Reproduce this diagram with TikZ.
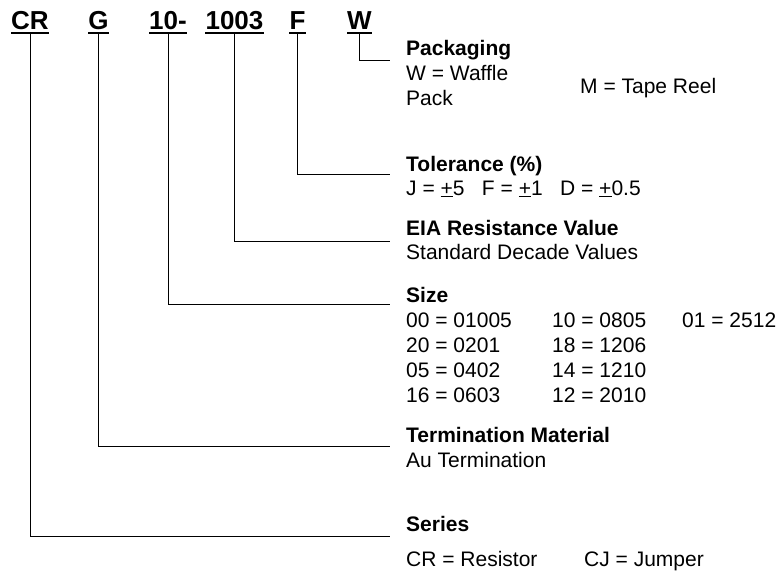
\documentclass[tikz,border=0pt]{standalone}
\usepackage{fontspec}
\setmainfont{Liberation Sans}
\usetikzlibrary{positioning}

\begin{document}
\begin{tikzpicture}[
  x=1pt, y=-1pt,
  node distance=25pt,
  code/.style={font=\fontsize{26}{30}\selectfont\bfseries, inner xsep=0pt, inner ysep=4pt, text depth=0pt, anchor=base},
  head/.style={font=\fontsize{21}{25}\selectfont\bfseries, inner sep=0pt, anchor=base west},
  desc/.style={font=\fontsize{21}{25}\selectfont, inner sep=0pt, anchor=base west},
  uline/.style={line width=2pt},
  lead/.style={line width=1pt}
]
\useasboundingbox (0,0) rectangle (778,571);

\node[code] (cr) at (30,29) {CR};
\node[code] (g) at (98.5,29) {G};
\node[code] (sz) at (168,29) {10-};
\node[code] (val) at (234.5,29) {1003};
\node[code] (tl) at (297.5,29) {F};
\node[code] (pk) at (359.5,29) {W};
\draw[uline] (cr.south west) -- (cr.south east);
\draw[uline] (g.south west) -- (g.south east);
\draw[uline] (sz.south west) -- (sz.south east);
\draw[uline] (val.south west) -- (val.south east);
\draw[uline] (tl.south west) -- (tl.south east);
\draw[uline] (pk.south west) -- (pk.south east);

\node[head] (pkg) at (406,55) {Packaging};
\node[desc, below=25pt of pkg.base west, anchor=base west] (pkgw) {W = Waffle};
\node[desc, below=25pt of pkgw.base west, anchor=base west] (pkgp) {Pack};
\node[desc] (pkgm) at (580,93) {M = Tape Reel};

\node[head] (tol) at (406,171) {Tolerance (\%)};
\node[desc, below=24pt of tol.base west, anchor=base west] (tolv) {J = \underline{+}5\hspace{0.83em}F = \underline{+}1\hspace{0.83em}D = \underline{+}0.5};

\node[head] (eia) at (406,235) {EIA Resistance Value};
\node[desc, below=24pt of eia.base west, anchor=base west] (eiav) {Standard Decade Values};

\node[head] (size) at (406,302) {Size};
\node[desc, below=25pt of size.base west, anchor=base west] (s00) {00 = 01005};
\node[desc, below=25pt of s00.base west, anchor=base west] (s20) {20 = 0201};
\node[desc, below=25pt of s20.base west, anchor=base west] (s05) {05 = 0402};
\node[desc, below=25pt of s05.base west, anchor=base west] (s16) {16 = 0603};
\node[desc] (s10) at (552,327) {10 = 0805};
\node[desc, below=25pt of s10.base west, anchor=base west] (s18) {18 = 1206};
\node[desc, below=25pt of s18.base west, anchor=base west] (s14) {14 = 1210};
\node[desc, below=25pt of s14.base west, anchor=base west] (s12) {12 = 2010};
\node[desc] (s01) at (682,327) {01 = 2512};

\node[head] (term) at (406,442) {Termination Material};
\node[desc, below=25pt of term.base west, anchor=base west] (termv) {Au Termination};

\node[head] (ser) at (406,531) {Series};
\node[desc, below=35pt of ser.base west, anchor=base west] (serr) {CR = Resistor};
\node[desc] (serj) at (584,566) {CJ = Jumper};

\coordinate (endpk) at (390,60);
\coordinate (endtl) at (390,174);
\coordinate (endval) at (390,241);
\coordinate (endsz) at (390,304);
\coordinate (endg) at (390,446);
\coordinate (endcr) at (390,536);

\draw[lead] (pk.south) |- (endpk);
\draw[lead] (tl.south) |- (endtl);
\draw[lead] (val.south) |- (endval);
\draw[lead] (sz.south) |- (endsz);
\draw[lead] (g.south) |- (endg);
\draw[lead] (cr.south) |- (endcr);
\end{tikzpicture}
\end{document}
